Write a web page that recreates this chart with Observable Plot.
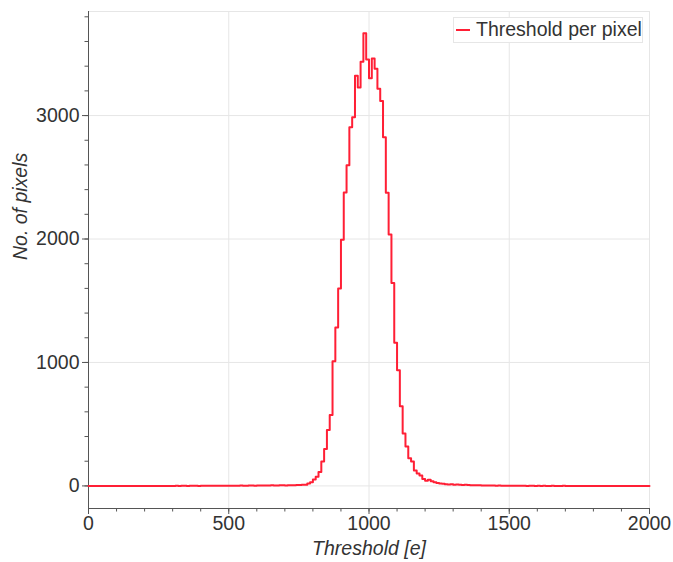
<!DOCTYPE html>
<html>
<head>
<meta charset="utf-8">
<script src="https://cdn.jsdelivr.net/npm/d3@7"></script>
<script src="https://cdn.jsdelivr.net/npm/@observablehq/plot@0.6"></script>
<style>
  body { margin: 0; background: #fff; }
  #wrap { position: relative; width: 673px; height: 562px; font-family: "Liberation Sans", Arial, Helvetica, sans-serif; }
  #legend { position: absolute; left: 453px; top: 17px; width: 190px; height: 26px; box-sizing: border-box;
            border: 1px solid #e6e6e6; background: #fff; display: flex; align-items: center; }
  #legend .sw { display: inline-block; width: 14px; height: 2px; background: #ff1f35; margin-left: 2px; margin-right: 6px; }
  #legend .lb { font-size: 19.5px; color: #333; line-height: 1; white-space: nowrap; }
</style>
</head>
<body>
<div id="wrap"><div id="chart"></div>
<div id="legend"><span class="sw"></span><span class="lb" id="legendLabel"></span></div></div>
<script>
// ---- data ----
const seriesName = "Threshold per pixel";
const xLabel = "Threshold [e]";
const yLabel = "No. of pixels";
const binWidth = 10;      // threshold units per bin
const firstBin = 0;
// counts per bin, bins start at 0, 10, 20, ... 1990
const counts = [
  // 0 - 290
  0,0,0,0,0,0,0,0,0,0, 0,0,0,0,0,0,0,0,0,0, 0,0,0,0,0,0,0,0,0,0,
  // 300 - 490
  0,1,0,1,1,0,1,1,1,0, 1,1,2,1,1,2,1,1,2,1,
  // 500 - 690
  2,1,2,2,3,2,2,3,3,2, 3,4,3,3,4,5,4,4,5,6,
  // 700 - 770
  4,5,6,5,7,8,9,10,
  // 780 - 870
  20,30,52,75,112,197,300,453,575,1010,
  // 880 - 970
  1283,1600,1994,2377,2598,2905,2986,3323,3228,3435,
  // 980 - 1070
  3667,3455,3302,3463,3380,3218,3118,2824,2374,2037,
  // 1080 - 1170
  1644,1159,936,645,425,320,224,197,124,100,
  // 1180 - 1270
  85,55,42,50,38,30,24,20,17,14,
  // 1280 - 1370
  12,13,10,11,9,8,9,7,6,6,
  // 1380 - 1390
  5,5,
  // 1400 - 1490
  4,3,4,3,3,2,3,2,2,2,
  // 1500 - 1990
  1,2,1,1,1,1,0,1,1,0, 1,0,1,0,0,1,0,0,0,1,
  0,0,0,0,0,0,0,0,0,0, 0,0,0,0,0,0,0,0,0,0, 0,0,0,0,0,0,0,0,0,0
];
const xMajorTicks = [0, 500, 1000, 1500, 2000];
const yMajorTicks = [0, 1000, 2000, 3000];
const xMinorStep = 100;
const yMinorStep = 200;
const xDomain = [0, 2000];
const yDomain = [-183, 3843];

// ---- build step points ----
const pts = counts.map((c, i) => ({x: firstBin + i * binWidth, y: c}));
pts.push({x: firstBin + counts.length * binWidth, y: counts[counts.length - 1]});

const xMinor = d3.range(xDomain[0], xDomain[1] + 1, xMinorStep);
const yMinor = d3.range(0, yDomain[1], yMinorStep);

const red = "#ff1f35";
const axisColor = "#555";
const gridColor = "#e6e6e6";
const fmt = d3.format("d");

const chart = Plot.plot({
  width: 673,
  height: 562,
  marginLeft: 88,
  marginRight: 24,
  marginTop: 11,
  marginBottom: 54,
  style: {fontFamily: '"Liberation Sans", Arial, Helvetica, sans-serif', fontSize: "19.5px", color: "#333", background: "#fff"},
  x: {domain: xDomain, axis: null},
  y: {domain: yDomain, axis: null},
  marks: [
    Plot.frame({stroke: gridColor}),
    Plot.gridX(xMajorTicks, {stroke: gridColor, strokeOpacity: 1}),
    Plot.gridY(yMajorTicks, {stroke: gridColor, strokeOpacity: 1}),
    Plot.axisX(xMinor, {tickSize: 3.5, fill: "none", stroke: axisColor, label: null}),
    Plot.axisY(yMinor, {tickSize: 3.5, fill: "none", stroke: axisColor, label: null}),
    Plot.axisX(xMajorTicks, {tickSize: 6, tickPadding: 2, tickFormat: fmt, stroke: axisColor, fill: "#333", label: null}),
    Plot.axisY(yMajorTicks, {tickSize: 6, tickPadding: 3, tickFormat: fmt, stroke: axisColor, fill: "#333", label: null}),
    Plot.ruleX([xDomain[0]], {stroke: axisColor}),
    Plot.ruleY([yDomain[0]], {stroke: axisColor}),
    Plot.line(pts, {x: "x", y: "y", curve: "step-after", stroke: red, strokeWidth: 2}),
    Plot.text([xLabel], {frameAnchor: "bottom", dy: 40, lineAnchor: "middle", text: d => d, fontStyle: "italic", fontSize: 19.5, fill: "#333"}),
    Plot.text([yLabel], {frameAnchor: "left", dx: -68, rotate: -90, text: d => d, fontStyle: "italic", fontSize: 19.5, fill: "#333"})
  ]
});
document.getElementById("chart").appendChild(chart);
document.getElementById("legendLabel").textContent = seriesName;
</script>
</body>
</html>
